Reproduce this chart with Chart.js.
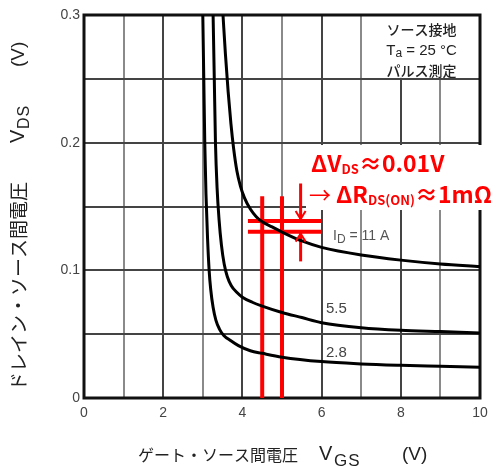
<!DOCTYPE html>
<html><head><meta charset="utf-8">
<script src="https://cdn.jsdelivr.net/npm/chart.js@4/dist/chart.umd.min.js"></script>
<style>html,body{margin:0;padding:0;background:#fff}#wrap{width:496px;height:469px}</style>
</head><body><div id="wrap"><canvas id="c" width="496" height="469"></canvas></div>
<script>
// ---- data ----
const vgs11 = [3.51, 3.57, 3.64, 3.71, 3.78, 3.86, 3.95, 4.05, 4.2, 4.35, 4.5, 4.75, 5.0, 5.5, 6, 7, 8, 9, 10];
const vds11 = [0.300, 0.270, 0.240, 0.215, 0.195, 0.178, 0.166, 0.157, 0.148, 0.142, 0.138, 0.134, 0.130, 0.123, 0.118, 0.112, 0.108, 0.105, 0.103];
const vgs55 = [3.26, 3.29, 3.32, 3.36, 3.41, 3.47, 3.54, 3.62, 3.72, 3.85, 4.0, 4.25, 4.5, 5, 5.5, 6, 7, 8, 9, 10];
const vds55 = [0.300, 0.250, 0.200, 0.165, 0.140, 0.120, 0.105, 0.095, 0.088, 0.083, 0.079, 0.075, 0.072, 0.067, 0.063, 0.059, 0.055, 0.053, 0.052, 0.051];
const vgs28 = [3.0, 3.025, 3.05, 3.08, 3.12, 3.16, 3.2, 3.26, 3.33, 3.42, 3.53, 3.7, 3.9, 4.2, 4.5, 5, 6, 7, 8, 9, 10];
const vds28 = [0.300, 0.250, 0.200, 0.160, 0.125, 0.100, 0.085, 0.071, 0.061, 0.054, 0.049, 0.045, 0.041, 0.037, 0.035, 0.032, 0.0285, 0.0267, 0.0256, 0.0248, 0.024];
const curveLabels = ['11 A', '5.5', '2.8'];
const xTickLabels = ['0', '2', '4', '6', '8', '10'];
const yTickLabels = ['0', '0.1', '0.2', '0.3'];
// red annotation markers
const markerVgs = [4.5, 5.0];
const markerTopVds = 0.158;
const markerVds = [0.1386, 0.1303];
const markerSpanVgs = [4.14, 6.0];
const arrowVgs = 5.47;
const arrowTailVds = [0.168, 0.107];

const toPts = (xs, ys) => xs.map((x, i) => ({x, y: ys[i]}));
const curve = (xs, ys) => ({data: toPts(xs, ys), borderColor: '#000', borderWidth: 3, pointRadius: 0, cubicInterpolationMode: 'monotone', fill: false});
const red = (pts, w) => ({data: pts, borderColor: '#ff0000', borderWidth: w, pointRadius: 0, tension: 0, fill: false, borderCapStyle: 'butt'});

const datasets = [
  curve(vgs11, vds11), curve(vgs55, vds55), curve(vgs28, vds28),
  red([{x: markerVgs[0], y: 0}, {x: markerVgs[0], y: markerTopVds}], 4),
  red([{x: markerVgs[1], y: 0}, {x: markerVgs[1], y: markerTopVds}], 4),
  red([{x: markerSpanVgs[0], y: markerVds[0]}, {x: markerSpanVgs[1], y: markerVds[0]}], 4),
  red([{x: markerSpanVgs[0], y: markerVds[1]}, {x: markerSpanVgs[1], y: markerVds[1]}], 4),
  red([{x: arrowVgs, y: arrowTailVds[0]}, {x: arrowVgs, y: markerVds[0]}], 3),
  red([{x: arrowVgs, y: arrowTailVds[1]}, {x: arrowVgs, y: markerVds[1]}], 3)
];

const JP = "'Noto Sans CJK JP', sans-serif";
const SANS = "'Liberation Sans', Arial, sans-serif";

function rich(ctx, parts, x, y, align) {
  // parts: [text, fontString, dy, letterSpacing]
  let w = 0;
  const measure = p => { ctx.font = p[1]; ctx.letterSpacing = (p[3] || 0) + 'px'; return ctx.measureText(p[0]).width; };
  parts.forEach(p => { w += measure(p); });
  let cx = align === 'center' ? x - w / 2 : x;
  ctx.textAlign = 'left';
  parts.forEach(p => { const pw = measure(p); ctx.fillText(p[0], cx, y + (p[2] || 0)); cx += pw; });
  ctx.letterSpacing = '0px';
}

const decor = {
  id: 'decor',
  beforeDatasetsDraw(chart) {
    const {ctx, chartArea: a, scales: {x, y}} = chart;
    ctx.save();
    // legend box
    ctx.fillStyle = '#fff';
    ctx.fillRect(x.getPixelForValue(7) + 1, a.top, a.right - x.getPixelForValue(7) - 1, y.getPixelForValue(0.25) - a.top - 1);
    ctx.fillStyle = '#222';
    ctx.textBaseline = 'middle';
    const cx = (x.getPixelForValue(7) + a.right) / 2 + 1;
    rich(ctx, [['ソース接地', '500 14px ' + JP]], cx, 30, 'center');
    rich(ctx, [['T', '15px ' + SANS], ['a', '12px ' + SANS, 3], [' = 25 °C', '15px ' + SANS]], cx, 51, 'center');
    rich(ctx, [['パルス測定', '500 14px ' + JP]], cx, 71, 'center');
    // frame
    ctx.strokeStyle = '#111';
    ctx.lineWidth = 3;
    ctx.strokeRect(a.left, a.top, a.right - a.left, a.bottom - a.top);
    ctx.restore();
  },
  afterDatasetsDraw(chart) {
    const {ctx, scales: {x, y}} = chart;
    ctx.save();
    // arrow heads
    ctx.strokeStyle = '#ff0000';
    ctx.lineWidth = 2;
    const ax = x.getPixelForValue(arrowVgs);
    const t1 = y.getPixelForValue(markerVds[0]) - 2, t2 = y.getPixelForValue(markerVds[1]) + 2;
    ctx.beginPath();
    ctx.moveTo(ax - 5, t1 - 8); ctx.lineTo(ax, t1); ctx.lineTo(ax + 5, t1 - 8);
    ctx.moveTo(ax - 5, t2 + 8); ctx.lineTo(ax, t2); ctx.lineTo(ax + 5, t2 + 8);
    ctx.stroke();
    // curve labels
    ctx.fillStyle = '#555';
    ctx.textBaseline = 'alphabetic';
    rich(ctx, [['I', '14px ' + SANS], ['D', '12px ' + SANS, 3], [' = ' + curveLabels[0], '14px ' + SANS]], 333, 240, 'left');
    ctx.fillStyle = '#444';
    rich(ctx, [[curveLabels[1], '15px ' + SANS]], 326, 313, 'left');
    rich(ctx, [[curveLabels[2], '15px ' + SANS]], 326, 357, 'left');
    // annotation box
    ctx.fillStyle = '#fff';
    ctx.fillRect(306, 145, 190, 65);
    ctx.fillStyle = '#ff0000';
    const B = 'bold 23px ' + JP, S = 'bold 13px ' + JP;
    rich(ctx, [['ΔV', B], ['DS', S, 2], ['≈0.01V', B]], 311, 172, 'left');
    rich(ctx, [['→ ', '22px ' + JP], ['ΔR', B], ['DS(ON)', S, 2], ['≈1mΩ', B]], 309, 203, 'left');
    // axis titles
    ctx.fillStyle = '#222';
    ctx.textBaseline = 'middle';
    const T = '16px ' + JP, TY = '19px ' + JP;
    rich(ctx, [['ゲート・ソース間電圧', T]], 138, 455, 'left');
    rich(ctx, [['V', '20px ' + SANS]], 319, 454, 'left');
    rich(ctx, [['GS', '17px ' + SANS, 0, 1]], 334, 461, 'left');
    rich(ctx, [['(V)', '19px ' + SANS]], 402, 455, 'left');
    ctx.translate(19, 0);
    ctx.rotate(-Math.PI / 2);
    rich(ctx, [['ドレイン・ソース間電圧', TY]], -391, 0, 'left');
    rich(ctx, [['V', '20px ' + SANS]], -143, -1, 'left');
    rich(ctx, [['DS', '16px ' + SANS, 6, 1]], -129, 0, 'left');
    rich(ctx, [['(V)', '19px ' + SANS]], -67, 0, 'left');
    ctx.restore();
  }
};

new Chart(document.getElementById('c'), {
  type: 'line',
  data: {datasets},
  options: {
    responsive: false, animation: false, devicePixelRatio: 1,
    layout: {padding: {top: 15, right: 16, left: 0, bottom: 0}},
    plugins: {legend: {display: false}, tooltip: {enabled: false}},
    scales: {
      x: {
        type: 'linear', min: 0, max: 10,
        afterFit: s => { s.height = 71; },
        border: {display: false},
        grid: {drawTicks: false, lineWidth: 2, color: c => (c.tick && c.tick.value % 2 !== 0) ? '#8a8a8a' : '#444'},
        ticks: {stepSize: 1, padding: 7, color: '#444', font: {family: SANS, size: 14},
          maxRotation: 0, autoSkip: false,
          callback: v => xTickLabels.includes(String(v)) ? String(v) : ''}
      },
      y: {
        type: 'linear', min: 0, max: 0.3,
        afterFit: s => { s.width = 84; },
        border: {display: false},
        grid: {drawTicks: false, lineWidth: 2, color: '#444'},
        ticks: {stepSize: 0.05, padding: 4, color: '#444', font: {family: SANS, size: 14}, autoSkip: false,
          callback: v => { const s = String(Math.round(v * 100) / 100); return yTickLabels.includes(s) ? s : ''; }}
      }
    }
  },
  plugins: [decor]
});
</script>
</body></html>
